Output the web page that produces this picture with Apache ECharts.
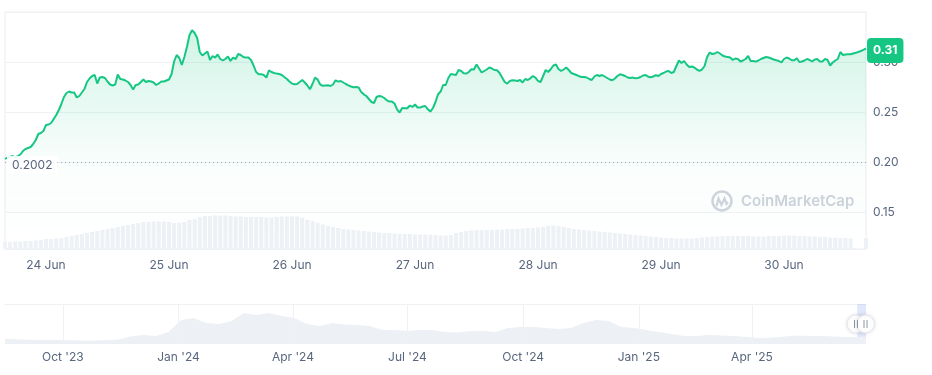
<!DOCTYPE html>
<html>
<head>
<meta charset="utf-8">
<script src="https://cdn.jsdelivr.net/npm/echarts@6.0.0/dist/echarts.min.js"></script>
<style>
html,body{margin:0;padding:0;background:#fff;}
#chart{width:932px;height:375px;}
</style>
</head>
<body>
<div id="chart"></div>
<script>
// ---------- DATA ----------
const priceStart = '2025-06-23T16:00:00';
const priceStepMinutes = 30;
const dayTickLabels = ['24 Jun', '25 Jun', '26 Jun', '27 Jun', '28 Jun', '29 Jun', '30 Jun'];
const openPrice = 0.2002;
const priceValues = [
  0.2030,0.2045,0.2050,0.2060,0.2045,0.2060,0.2075,0.2110,0.2130,0.2140,
  0.2150,0.2180,0.2220,0.2280,0.2290,0.2310,0.2370,0.2375,0.2390,0.2430,
  0.2470,0.2520,0.2580,0.2650,0.2690,0.2705,0.2695,0.2695,0.2645,0.2660,
  0.2695,0.2730,0.2800,0.2835,0.2860,0.2870,0.2785,0.2845,0.2850,0.2840,
  0.2805,0.2775,0.2765,0.2775,0.2875,0.2830,0.2825,0.2815,0.2800,0.2770,
  0.2725,0.2770,0.2775,0.2800,0.2825,0.2800,0.2810,0.2805,0.2795,0.2770,
  0.2785,0.2805,0.2805,0.2815,0.2825,0.2880,0.3005,0.3070,0.3040,0.2970,
  0.3050,0.3150,0.3270,0.3317,0.3290,0.3240,0.3100,0.3065,0.3085,0.3105,
  0.3020,0.3060,0.3044,0.3075,0.3030,0.3015,0.3030,0.3054,0.3010,0.3044,
  0.3030,0.3080,0.3070,0.3050,0.3044,0.3044,0.3020,0.2965,0.2900,0.2877,
  0.2877,0.2870,0.2844,0.2917,0.2900,0.2890,0.2884,0.2880,0.2870,0.2850,
  0.2830,0.2805,0.2784,0.2778,0.2780,0.2800,0.2820,0.2795,0.2765,0.2727,
  0.2780,0.2844,0.2825,0.2775,0.2762,0.2765,0.2767,0.2760,0.2775,0.2817,
  0.2804,0.2810,0.2795,0.2780,0.2767,0.2755,0.2748,0.2750,0.2745,0.2700,
  0.2677,0.2660,0.2630,0.2600,0.2590,0.2650,0.2660,0.2655,0.2640,0.2617,
  0.2604,0.2604,0.2585,0.2527,0.2494,0.2540,0.2537,0.2537,0.2565,0.2550,
  0.2575,0.2545,0.2544,0.2555,0.2560,0.2527,0.2504,0.2540,0.2600,0.2677,
  0.2705,0.2770,0.2770,0.2840,0.2880,0.2875,0.2870,0.2920,0.2910,0.2887,
  0.2884,0.2900,0.2927,0.2925,0.2975,0.2935,0.2895,0.2910,0.2925,0.2945,
  0.2935,0.2920,0.2917,0.2890,0.2845,0.2800,0.2784,0.2810,0.2817,0.2815,
  0.2810,0.2820,0.2795,0.2830,0.2820,0.2837,0.2860,0.2844,0.2810,0.2800,
  0.2860,0.2920,0.2900,0.2930,0.2965,0.2975,0.2930,0.2910,0.2925,0.2945,
  0.2920,0.2890,0.2880,0.2870,0.2858,0.2850,0.2850,0.2845,0.2830,0.2820,
  0.2855,0.2870,0.2860,0.2870,0.2855,0.2840,0.2825,0.2817,0.2835,0.2860,
  0.2877,0.2870,0.2860,0.2845,0.2840,0.2844,0.2837,0.2840,0.2850,0.2865,
  0.2870,0.2853,0.2848,0.2855,0.2868,0.2860,0.2880,0.2890,0.2905,0.2910,
  0.2890,0.2900,0.2960,0.3015,0.2990,0.3010,0.2975,0.2950,0.2955,0.2945,
  0.2925,0.2912,0.2925,0.2960,0.3050,0.3094,0.3080,0.3085,0.3100,0.3085,
  0.3065,0.3055,0.3050,0.3045,0.3020,0.3035,0.3030,0.3005,0.3015,0.3030,
  0.3060,0.3010,0.3010,0.3004,0.3015,0.3030,0.3040,0.3050,0.3045,0.3035,
  0.3025,0.3017,0.3010,0.2995,0.3030,0.3045,0.3035,0.3017,0.3017,0.3037,
  0.3000,0.3005,0.3015,0.3030,0.3020,0.3005,0.3025,0.3030,0.3004,0.3005,
  0.3030,0.3020,0.2965,0.2995,0.3015,0.3030,0.3100,0.3070,0.3075,0.3077,
  0.3077,0.3085,0.3092,0.3100,0.3110,0.3122,0.3135
];
// hourly 24h volume (millions USD)
const volumeStepMinutes = 60;
const volumeValues = [
  14,14,15,15,16,16,17,18,
  20,20,21,22,24,26,28,30,
  32,34,36,38,40,42,44,46,
  48,50,52,54,54,55,55,55,
  54,52,52,54,58,60,64,66,
  66,67,67,67,66,65,65,64,
  64,64,64,63,63,64,65,65,
  65,65,62,58,56,52,49,46,
  44,42,40,39,38,37,36,35,
  34,33,32,32,31,30,30,30,
  29,29,29,28,28,27,27,28,
  32,34,36,37,38,38,38,38,
  39,39,40,40,40,41,42,42,
  43,44,46,47,46,44,42,40,
  39,38,37,36,35,34,33,32,
  31,30,29,28,27,26,25,24,
  23,22,22,21,21,21,21,22,
  23,24,25,25,26,26,26,26,
  26,26,25,25,25,26,26,26,
  27,27,27,26,26,25,25,24,
  24,23,23,22,22,21,null,null,
  22
];
// navigator (long-range history)
const navStart = '2023-08-16T00:00:00';
const navStepDays = 10;
const navEnd = '2025-06-30T16:00:00';
const navValues = [
  0.256,0.240,0.234,0.230,0.230,0.226,0.222,0.222,0.226,0.240,
  0.300,0.330,0.310,0.390,0.630,0.670,0.570,0.550,0.610,0.770,
  0.730,0.770,0.710,0.670,0.550,0.510,0.570,0.540,0.530,0.510,
  0.430,0.430,0.410,0.430,0.430,0.390,0.380,0.410,0.410,0.390,
  0.470,0.490,0.490,0.470,0.450,0.470,0.570,0.630,0.610,0.490,
  0.470,0.430,0.390,0.350,0.310,0.310,0.330,0.320,0.310,0.290,
  0.270,0.280,0.300,0.320,0.310,0.310,0.300,0.290,0.290,0.300
];
const quarterTicks = ['2023-10-01T00:00:00','2024-01-01T00:00:00','2024-04-01T00:00:00','2024-07-01T00:00:00','2024-10-01T00:00:00','2025-01-01T00:00:00','2025-04-01T00:00:00'];
const quarterLabels = ["Oct '23", "Jan '24", "Apr '24", "Jul '24", "Oct '24", "Jan '25", "Apr '25"];

// ---------- BUILD ----------
function fmt(d) {
  const p = n => String(n).padStart(2, '0');
  return d.getFullYear() + '-' + p(d.getMonth() + 1) + '-' + p(d.getDate()) + ' ' + p(d.getHours()) + ':' + p(d.getMinutes());
}
const t0 = new Date(priceStart).getTime();
const priceCats = priceValues.map((_, i) => fmt(new Date(t0 + i * priceStepMinutes * 60000)));
const volumeCats = volumeValues.map((_, i) => fmt(new Date(t0 + i * volumeStepMinutes * 60000)));
const dayLabelMap = {};
let k = 0;
priceCats.forEach(c => { if (c.endsWith('00:00') && k < dayTickLabels.length) { dayLabelMap[c] = dayTickLabels[k++]; } });

const n0 = new Date(navStart).getTime();
const navData = navValues.map((v, i) => {
  const t = (i === navValues.length - 1) ? new Date(navEnd).getTime() : n0 + i * navStepDays * 86400000;
  return [t, v];
});
const lastPrice = priceValues[priceValues.length - 1];

const FONT = 'Inter, "Noto Sans", sans-serif';
const LABEL = '#58667e';

const chart = echarts.init(document.getElementById('chart'));
chart.setOption({
  animation: false,
  textStyle: { fontFamily: FONT },
  grid: [
    { left: 5, right: 66, top: 12, height: 237, show: true, borderColor: '#e9ecf0', borderWidth: 1, backgroundColor: 'transparent' },
    { left: 5, right: 66, top: 304, height: 40 }
  ],
  xAxis: [
    {
      gridIndex: 0, type: 'category', data: priceCats, boundaryGap: false,
      axisLine: { show: false }, axisTick: { show: false }, splitLine: { show: false },
      axisLabel: {
        interval: (i, v) => dayLabelMap[v] !== undefined,
        formatter: v => dayLabelMap[v] || '',
        hideOverlap: false,
        color: LABEL, fontSize: 12, margin: 10, fontFamily: FONT
      }
    },
    { gridIndex: 0, type: 'category', data: volumeCats, boundaryGap: false, show: false },
    {
      gridIndex: 1, type: 'time', min: new Date(navStart).getTime(), max: new Date(navEnd).getTime(),
      position: 'top',
      axisLine: { show: true, lineStyle: { color: '#eff2f5', width: 1 } },
      axisTick: { show: false }, axisLabel: { show: false }, splitLine: { show: false }
    }
  ],
  yAxis: [
    {
      gridIndex: 0, type: 'value', position: 'right', min: 0.113, max: 0.35,
      axisLine: { show: false }, axisTick: { show: false },
      splitLine: { show: true, lineStyle: { color: '#eff2f5', width: 1 } },
      axisLabel: {
        color: LABEL, fontSize: 12, margin: 7, fontFamily: FONT,
        formatter: v => {
          const q = v * 20;
          if (Math.abs(q - Math.round(q)) > 1e-6) return '';
          if (v > 0.349) return '';
          return v.toFixed(2);
        }
      }
    },
    { gridIndex: 0, type: 'value', min: 0, max: 474, show: false },
    { gridIndex: 1, type: 'value', min: 0.15, max: 0.95, show: false }
  ],
  graphic: [
    { type: 'circle', z: 1, shape: { cx: 722, cy: 201, r: 9.5 }, style: { fill: 'none', stroke: '#cfd4dd', lineWidth: 2.5 } },
    { type: 'polyline', z: 1, shape: { points: [[716.5, 206], [718.5, 198.5], [721.5, 205], [724.5, 198.5], [726.5, 204], [728, 202]] }, style: { fill: 'none', stroke: '#cfd4dd', lineWidth: 2.2 } },
    { type: 'text', z: 1, x: 741, y: 201, style: { text: 'CoinMarketCap', font: '600 15px ' + FONT, fill: '#cdd2db', verticalAlign: 'middle', textVerticalAlign: 'middle' } },
    { type: 'circle', z: 10, shape: { cx: 856, cy: 324, r: 9 }, style: { fill: '#fff', stroke: '#e3e6ec', lineWidth: 1, shadowBlur: 4, shadowColor: 'rgba(0,0,0,0.12)' } },
    { type: 'circle', z: 10, shape: { cx: 865.5, cy: 324, r: 9 }, style: { fill: '#fff', stroke: '#e3e6ec', lineWidth: 1, shadowBlur: 4, shadowColor: 'rgba(0,0,0,0.12)' } },
    { type: 'line', z: 11, shape: { x1: 854.5, y1: 320, x2: 854.5, y2: 328 }, style: { stroke: '#8a94a6', lineWidth: 1 } },
    { type: 'line', z: 11, shape: { x1: 857.5, y1: 320, x2: 857.5, y2: 328 }, style: { stroke: '#8a94a6', lineWidth: 1 } },
    { type: 'line', z: 11, shape: { x1: 864, y1: 320, x2: 864, y2: 328 }, style: { stroke: '#8a94a6', lineWidth: 1 } },
    { type: 'line', z: 11, shape: { x1: 867, y1: 320, x2: 867, y2: 328 }, style: { stroke: '#8a94a6', lineWidth: 1 } }
  ],
  series: [
    {
      type: 'bar', xAxisIndex: 1, yAxisIndex: 1, data: volumeValues, barWidth: 4, silent: true,
      itemStyle: { color: '#eef1f5' }
    },
    {
      type: 'line', xAxisIndex: 0, yAxisIndex: 0, data: priceValues,
      showSymbol: false, symbol: 'none', silent: true,
      lineStyle: { color: '#16c784', width: 2 },
      areaStyle: {
        color: new echarts.graphic.LinearGradient(0, 0, 0, 1, [
          { offset: 0, color: 'rgba(22,199,132,0.28)' },
          { offset: 0.62, color: 'rgba(22,199,132,0.03)' },
          { offset: 1, color: 'rgba(22,199,132,0)' }
        ])
      },
      markLine: {
        silent: true, symbol: ['none', 'none'], animation: false,
        data: [
          {
            yAxis: openPrice,
            lineStyle: { color: '#a1a7bb', type: [1, 3], width: 1 },
            label: {
              position: 'insideStart', formatter: String(openPrice), distance: 2, offset: [0, 3],
              color: LABEL, fontSize: 12, fontFamily: FONT,
              backgroundColor: 'rgba(255,255,255,0.9)', padding: [3, 5]
            }
          }
        ]
      }
    },
    {
      type: 'line', xAxisIndex: 0, yAxisIndex: 0, data: priceValues.map((v, i) => i === priceValues.length - 1 ? v : null),
      showSymbol: true, symbol: 'circle', symbolSize: 0.1, silent: true, z: 20,
      lineStyle: { width: 0 }, itemStyle: { color: 'rgba(0,0,0,0)' },
      label: {
        show: true, position: 'right', distance: 1, offset: [0, 2], formatter: lastPrice.toFixed(2),
        color: '#fff', backgroundColor: '#16c784', padding: [6, 6], borderRadius: 4,
        fontWeight: 'bold', fontSize: 12, lineHeight: 13, fontFamily: FONT
      }
    },
    {
      type: 'line', xAxisIndex: 2, yAxisIndex: 2, data: navData,
      showSymbol: false, symbol: 'none', silent: true,
      lineStyle: { width: 0 },
      areaStyle: { color: '#edf0f4', opacity: 1 },
      markLine: {
        silent: true, symbol: ['none', 'none'], animation: false,
        lineStyle: { color: '#eff2f5', type: 'solid', width: 1 },
        label: { position: 'start', distance: 7, color: LABEL, fontSize: 12, fontFamily: FONT },
        data: quarterTicks.map((d, i) => ({ xAxis: new Date(d).getTime(), label: { formatter: quarterLabels[i] } }))
      },
      markArea: {
        silent: true,
        itemStyle: { color: 'rgba(120,150,240,0.22)' },
        data: [[{ xAxis: new Date(priceStart).getTime() }, { xAxis: new Date(navEnd).getTime() }]]
      }
    }
  ]
});
</script>
</body>
</html>
